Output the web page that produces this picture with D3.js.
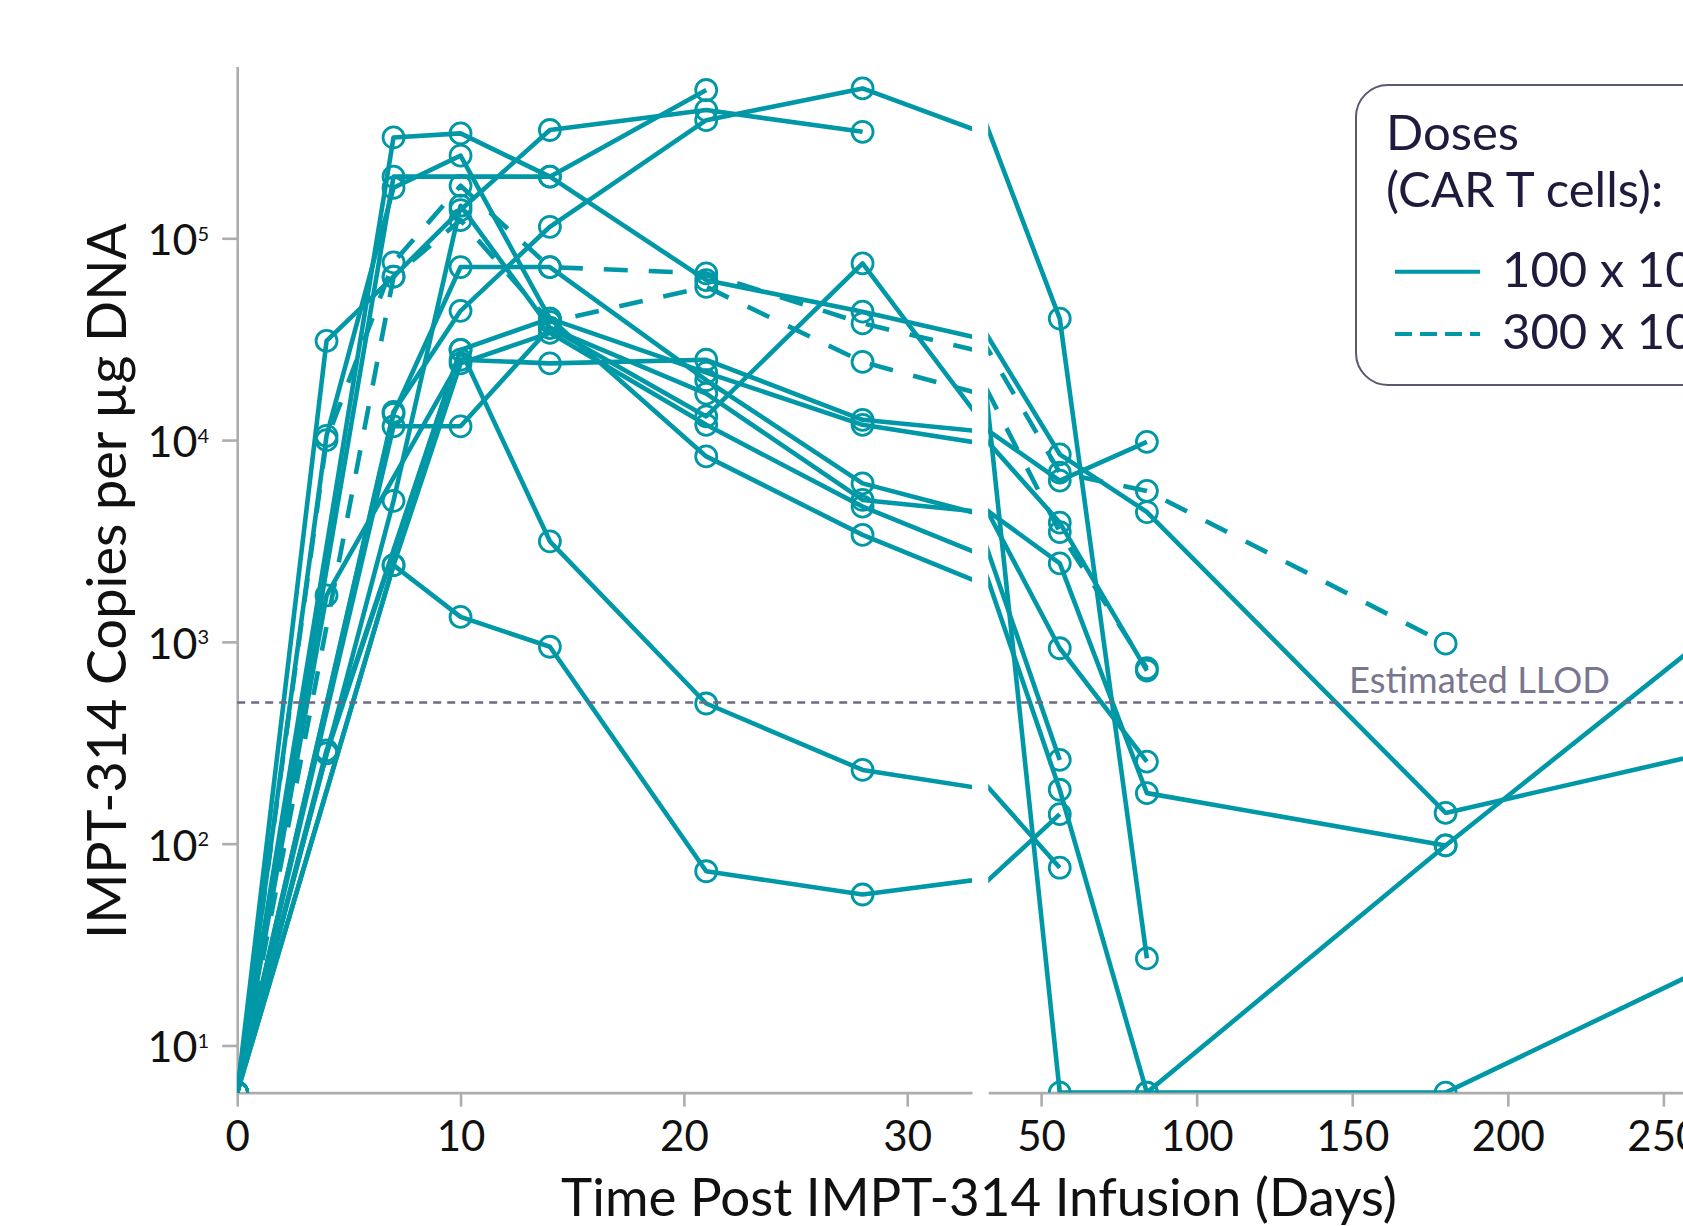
<!DOCTYPE html>
<html lang="en">
<head>
  <meta charset="utf-8">
  <title>IMPT-314 expansion and persistence</title>
  <script src="https://d3js.org/d3.v7.min.js"></script>
  <style>
    body { margin: 0; background: #fff; }
    svg { display: block; }
    text { font-family: Lato, "Open Sans", "DejaVu Sans", sans-serif; }
  </style>
</head>
<body>
  <svg id="chart" width="1683" height="1226"></svg>
  <script>
    // sampling days (days post infusion)
    const days = [0, 4, 7, 10, 14, 21, 28, 56, 84, 180, 270];

    // copies per ug DNA for each patient, null = no sample, 0 = not detected
    const pt01 = [0, 31000, 64500, 138000, 344000, 432000, 337000, null, null, null, null];
    const pt02 = [0, null, 202000, null, 202000, 543000, null, null, null, null, null];
    const pt03 = [0, null, 316000, 331000, 202000, 62000, 43300, 8500, 4400, 142, 295];
    const pt04 = [0, null, 13800, 43700, 114000, 385000, 553000, 40000, 27, null, null];
    const pt05 = [0, 10500, 178000, 257000, 40000, 21600, 11900, 3900, 720, null, null];
    const pt06 = [0, null, 5000, 145000, 36000, 17000, 5050, 2450, 178, 98, null];
    const pt07 = [0, 1700, null, 25000, 24000, 25000, 12600, 6300, 9800, null, null];
    const pt08 = [0, null, 2400, 24000, 34000, 11900, 4680, 260, null, null, null];
    const pt09 = [0, null, 13500, 72000, 72000, 19800, 6100, 930, 255, null, null];
    const pt10 = [0, null, 11700, 11700, 36000, 13100, 75100, 0, 0, 0, 27];
    const pt11 = [0, 280, null, 28000, 40000, 8300, 3390, 185, 0, 98, 1250];
    const pt12 = [0, 290, null, 28000, 3150, 495, 232, 76, null, null, null];
    const pt13 = [0, null, 2400, 1330, 946, 73, 56, 140, null, null, null];
    const pt14 = [0, 10000, 76000, 182000, 72000, 67000, 37900, 6900, 5600, 980, null];
    const pt15 = [0, null, 64500, 123000, 38500, 57500, 24400, 3500, 740, null, null];

    const patients = [pt01, pt02, pt03, pt04, pt05, pt06, pt07, pt08, pt09, pt10, pt11, pt12, pt13, pt14, pt15];
    // dose in millions of CAR T cells
    const doses = [100, 100, 100, 100, 100, 100, 100, 100, 100, 100, 100, 100, 100, 300, 300];

    const leftTicks = [0, 10, 20, 30];
    const rightTicks = [50, 100, 150, 200, 250, 300];
    const yTicks = [10, 100, 1000, 10000, 100000];
    const llod = 500;
    const doseLabels = ["100 x 10", "300 x 10"];

    const W = 1683;
    const teal = "#0098a6";
    const axisGrey = "#adadad";

    const svg = d3.select("#chart");

    // broken x axis: two panels sharing the y scale
    const xLeft = d3.scaleLinear().domain([0, 32.9]).range([237.2, 972]);
    const xRight = d3.scaleLinear().domain([33, 300]).range([988.2, 1819]);
    const y = d3.scaleLog().domain([5.84, 7.1e5]).range([1092.6, 66.5]);
    const yOf = v => y(v === 0 ? y.domain()[0] : v);

    const defs = svg.append("defs");
    const panels = [
      { id: "clipL", x: xLeft },
      { id: "clipR", x: xRight }
    ];
    panels.forEach(p => {
      const r = p.x.range();
      defs.append("clipPath").attr("id", p.id)
        .append("rect")
        .attr("x", r[0]).attr("y", 40)
        .attr("width", r[1] - r[0]).attr("height", y.range()[0] - 40);
    });

    // axes
    const yAxis = svg.append("g")
      .attr("transform", "translate(237.2,0)")
      .call(d3.axisLeft(y).tickValues(yTicks).tickSize(15).tickSizeOuter(0).tickFormat(""));

    const xAxisL = svg.append("g")
      .attr("transform", `translate(0,${y.range()[0]})`)
      .call(d3.axisBottom(xLeft).tickValues(leftTicks).tickSize(14).tickSizeOuter(0).tickFormat(d3.format("d")));
    const xAxisR = svg.append("g")
      .attr("transform", `translate(0,${y.range()[0]})`)
      .call(d3.axisBottom(xRight).tickValues(rightTicks).tickSize(14).tickSizeOuter(0).tickFormat(d3.format("d")));

    [yAxis, xAxisL, xAxisR].forEach(a => {
      a.select(".domain").attr("stroke", axisGrey).attr("stroke-width", 2.6);
      a.selectAll(".tick line").attr("stroke", axisGrey).attr("stroke-width", 2.6);
    });
    [xAxisL, xAxisR].forEach(a => {
      a.selectAll(".tick text")
        .attr("y", 58).attr("dy", null)
        .attr("font-size", 42).attr("fill", "#111")
        .attr("font-family", null);
    });

    // y tick labels as 10^n
    yTicks.forEach(t => {
      const ty = y(t);
      const txt = svg.append("text")
        .attr("x", 209).attr("y", ty + 17)
        .attr("text-anchor", "end")
        .attr("fill", "#111");
      txt.append("tspan").attr("font-size", 43).text("10");
      txt.append("tspan").attr("font-size", 20).attr("dy", -14.5).text(Math.round(Math.log10(t)));
    });

    // lines and markers
    const toPoints = vals => days.map((d, i) => ({ day: d, v: vals[i] })).filter(p => p.v != null);

    panels.forEach(p => {
      const g = svg.append("g").attr("clip-path", `url(#${p.id})`);
      const line = d3.line().x(d => p.x(d.day)).y(d => yOf(d.v));
      patients.forEach((vals, i) => {
        const pts = toPoints(vals);
        g.append("path")
          .attr("d", line(pts))
          .attr("fill", "none")
          .attr("stroke", teal)
          .attr("stroke-width", 4.6)
          .attr("stroke-linejoin", "round")
          .attr("stroke-dasharray", doses[i] === 300 ? "24,21" : null);
        g.selectAll(null)
          .data(pts)
          .enter()
          .append("circle")
          .attr("cx", d => p.x(d.day))
          .attr("cy", d => yOf(d.v))
          .attr("r", 10.5)
          .attr("fill", "none")
          .attr("stroke", teal)
          .attr("stroke-width", 2.8);
      });
    });

    // estimated lower limit of detection
    svg.append("line")
      .attr("x1", 237.2).attr("x2", W)
      .attr("y1", y(llod)).attr("y2", y(llod))
      .attr("stroke", "#6e6a84")
      .attr("stroke-width", 2.5)
      .attr("stroke-dasharray", "8,6");

    // fit a text's font size so it spans the wanted width
    function fitText(sel, width) {
      const w = sel.node().getComputedTextLength();
      const fs = parseFloat(sel.attr("font-size"));
      sel.attr("font-size", fs * width / w);
    }

    const llodLabel = svg.append("text")
      .attr("x", 1349).attr("y", 693)
      .attr("font-size", 34)
      .attr("fill", "#7a7590")
      .text("Estimated LLOD");
    fitText(llodLabel, 261);

    // axis titles
    const xTitle = svg.append("text")
      .attr("x", 979).attr("y", 1216)
      .attr("text-anchor", "middle")
      .attr("font-size", 50)
      .attr("fill", "#111")
      .text("Time Post IMPT-314 Infusion (Days)");
    fitText(xTitle, 836);

    const yTitle = svg.append("text")
      .attr("transform", "translate(126,581) rotate(-90)")
      .attr("text-anchor", "middle")
      .attr("font-size", 52)
      .attr("fill", "#111")
      .text("IMPT-314 Copies per µg DNA");
    fitText(yTitle, 716);

    // legend
    const lg = svg.append("g");
    lg.append("rect")
      .attr("x", 1356).attr("y", 85)
      .attr("width", 500).attr("height", 300)
      .attr("rx", 32)
      .attr("fill", "#fff")
      .attr("stroke", "#5b5870")
      .attr("stroke-width", 2);
    lg.append("text").attr("x", 1386).attr("y", 150)
      .attr("font-size", 49).attr("fill", "#1f1b3d").text("Doses");
    lg.append("text").attr("x", 1386).attr("y", 206.7)
      .attr("font-size", 49).attr("fill", "#1f1b3d").text("(CAR T cells):");
    doseLabels.forEach((lab, i) => {
      const ly = [271.7, 334][i];
      lg.append("line")
        .attr("x1", 1395).attr("x2", 1480)
        .attr("y1", ly).attr("y2", ly)
        .attr("stroke", teal).attr("stroke-width", 4)
        .attr("stroke-dasharray", i === 1 ? "17,8" : null);
      const t = lg.append("text")
        .attr("x", 1502).attr("y", ly + 15)
        .attr("font-size", 49).attr("fill", "#1f1b3d");
      t.append("tspan").text(lab);
      t.append("tspan").attr("font-size", 28).attr("dy", -20).text("6");
    });
  </script>
</body>
</html>
